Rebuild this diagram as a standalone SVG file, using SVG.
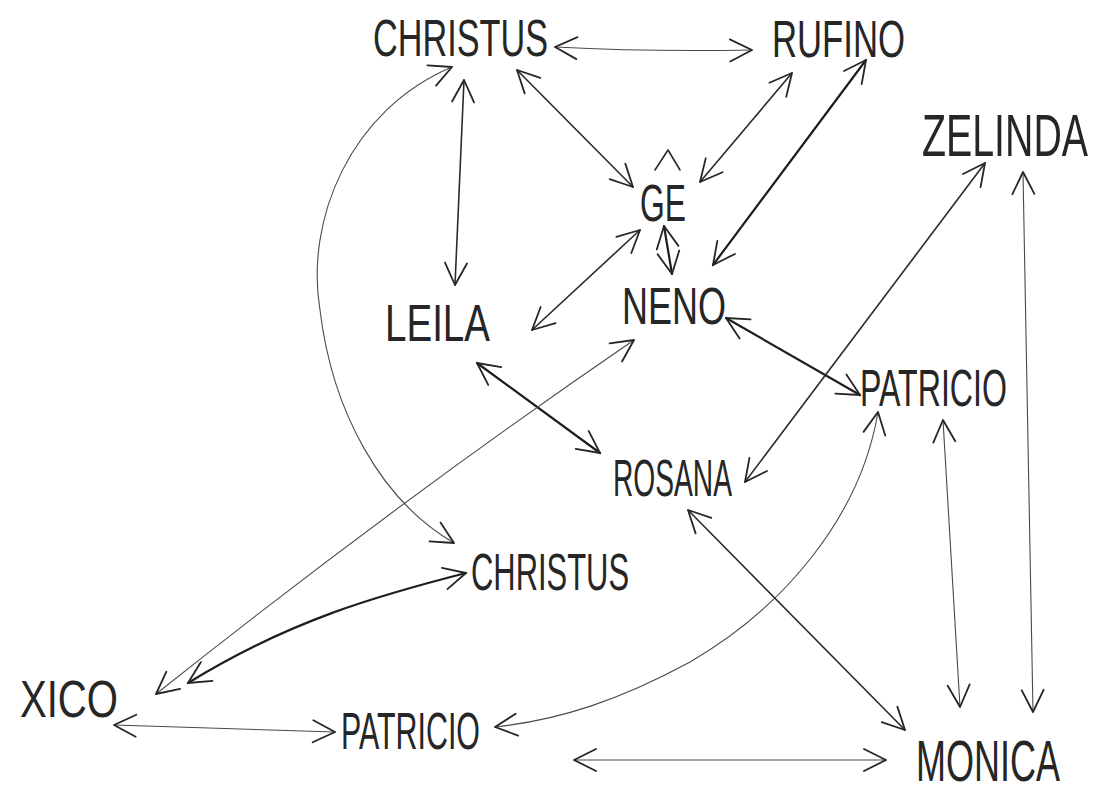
<svg xmlns="http://www.w3.org/2000/svg" width="1112" height="792" viewBox="0 0 1112 792">
<style>
.lbl{font-family:"Liberation Sans","DejaVu Sans",sans-serif;fill:#262626;font-size:51px;}
.c{fill:none;stroke:#2a2a2a;stroke-width:1.6;stroke-linecap:round;marker-start:url(#ah);marker-end:url(#ah);}
.thin{stroke:#4a4a4a;stroke-width:1.1;}
.thick{stroke:#1e1e1e;stroke-width:2.2;}
.mark{fill:none;stroke:#2a2a2a;stroke-width:1.6;stroke-linecap:round;stroke-linejoin:round;}
</style>
<defs>
<marker id="ah" viewBox="-24 -12 26 24" refX="0" refY="0" markerWidth="26" markerHeight="24" markerUnits="userSpaceOnUse" orient="auto-start-reverse" overflow="visible">
<path d="M-22,-11 L0,0 L-22,11" fill="none" stroke="#262626" stroke-width="1.8" stroke-linecap="round" stroke-linejoin="round"/>
</marker>
</defs>
<rect width="1112" height="792" fill="#ffffff"/>
<g id="connectors">
<path class="c thin" d="M555,47 Q650,52 752,50"/>
<path class="c" d="M464,80 L455,285"/>
<path class="c thin" d="M452,67 C350,110 305,220 320,310 C332,410 380,500 454,543"/>
<path class="c" d="M517,70 L633,187"/>
<path class="c" d="M792,73 L700,182"/>
<path class="c thick" d="M866,60 L713,265"/>
<path class="c thick" d="M664,226 L672,274"/>
<path class="c" d="M640,230 L532,330"/>
<path class="mark" d="M655,170 L668,150 L680,170"/>
<path class="c thick" d="M726,318 L860,395"/>
<path class="c thick" d="M477,363 L600,453"/>
<path class="c thin" d="M634,340 Q400,500 156,694"/>
<path class="c thick" d="M466,573 C380,595 290,620 188,683"/>
<path class="c thin" d="M114,725 L335,732"/>
<path class="c thin" d="M878,412 C860,520 780,610 690,662 C620,700 560,720 495,727"/>
<path class="c" d="M688,510 L905,730"/>
<path class="c thin" d="M943,420 L960,707"/>
<path class="c thin" d="M1023,172 L1033,712"/>
<path class="c" d="M985,163 L745,482"/>
<path class="c thin" d="M574,760 L886,760"/>
</g>
<g id="christus-top"><text class="lbl" x="373" y="56" textLength="175" lengthAdjust="spacingAndGlyphs">CHRISTUS</text></g>
<g id="rufino"><text class="lbl" x="772" y="57" textLength="133" lengthAdjust="spacingAndGlyphs">RUFINO</text></g>
<g id="zelinda"><text class="lbl" transform="translate(922,156) scale(1,1.16)" x="0" y="0" font-size="44" textLength="166" lengthAdjust="spacingAndGlyphs">ZELINDA</text></g>
<g id="ge"><text class="lbl" x="640" y="221" textLength="46" lengthAdjust="spacingAndGlyphs">GE</text></g>
<g id="leila"><text class="lbl" x="385" y="341" textLength="105" lengthAdjust="spacingAndGlyphs">LEILA</text></g>
<g id="neno"><text class="lbl" x="622" y="324" textLength="104" lengthAdjust="spacingAndGlyphs">NENO</text></g>
<g id="patricio-right"><text class="lbl" x="860" y="406" textLength="147" lengthAdjust="spacingAndGlyphs">PATRICIO</text></g>
<g id="rosana"><text class="lbl" x="613" y="496" textLength="119" lengthAdjust="spacingAndGlyphs">ROSANA</text></g>
<g id="christus-lower"><text class="lbl" x="471" y="590" textLength="158" lengthAdjust="spacingAndGlyphs">CHRISTUS</text></g>
<g id="xico"><text class="lbl" x="20" y="717" textLength="98" lengthAdjust="spacingAndGlyphs">XICO</text></g>
<g id="patricio-lower"><text class="lbl" x="341" y="749" textLength="139" lengthAdjust="spacingAndGlyphs">PATRICIO</text></g>
<g id="monica"><text class="lbl" transform="translate(916,781) scale(1,1.12)" x="0" y="0" font-size="48" textLength="144" lengthAdjust="spacingAndGlyphs">MONICA</text></g>
</svg>
